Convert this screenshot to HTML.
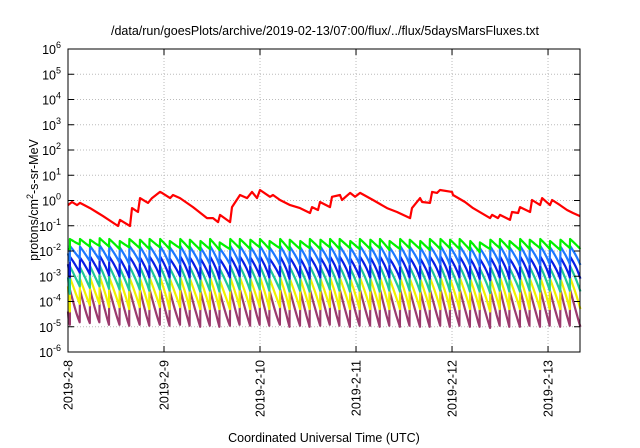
<!DOCTYPE html>
<html><head><meta charset="utf-8"><style>
body{margin:0;background:#fff;}
svg{display:block;font-family:"Liberation Sans",sans-serif;}
</style></head><body>
<svg id="chart" width="640" height="448" viewBox="0 0 640 448" xmlns="http://www.w3.org/2000/svg">
<text x="325" y="35" font-size="12.5" text-anchor="middle">/data/run/goesPlots/archive/2019-02-13/07:00/flux/../flux/5daysMarsFluxes.txt</text>
<text transform="translate(38,200) rotate(-90)" font-size="12.5" text-anchor="middle">protons/cm<tspan dy="-5" font-size="9">2</tspan><tspan dy="5">-s-sr-MeV</tspan></text>
<text x="324" y="442" font-size="12.5" text-anchor="middle">Coordinated Universal Time (UTC)</text>
<g id="grid"></g><g id="series"></g><g id="axes"></g>
</svg>
<script>
const xTickLabels = ["2019-2-8","2019-2-9","2019-2-10","2019-2-11","2019-2-12","2019-2-13"];
const yTickExps = [-6,-5,-4,-3,-2,-1,0,1,2,3,4,5,6];
const redTimes = [0,.042,.094,.125,.229,.313,.365,.521,.542,.646,.667,.729,.75,.833,.875,.958,.979,1.063,1.094,1.167,1.302,1.448,1.51,1.563,1.583,1.688,1.708,1.792,1.865,1.917,1.969,2.0,2.104,2.135,2.208,2.313,2.417,2.521,2.542,2.604,2.625,2.729,2.75,2.833,2.854,2.938,2.99,3.042,3.177,3.323,3.427,3.563,3.583,3.667,3.688,3.771,3.792,3.844,3.875,4.0,4.01,4.135,4.219,4.396,4.417,4.479,4.5,4.604,4.625,4.688,4.708,4.813,4.833,4.917,4.938,5.021,5.042,5.125,5.198,5.26,5.333];
const redValues = [.66,.87,.66,.8,.5,.32,.24,.098,.17,.098,.5,.35,1.25,.8,1.25,2.2,2.0,1.25,1.65,1.25,.55,.2,.2,.14,.27,.14,.55,1.65,1.25,2.2,1.25,2.6,1.4,1.65,1.05,.66,.5,.32,.55,.42,.87,.55,1.4,1.65,1.05,2.0,1.4,2.0,1.05,.5,.35,.2,.5,1.25,.87,.8,2.2,2.0,2.6,2.2,1.65,.87,.5,.2,.27,.2,.27,.17,.35,.32,.55,.35,1.05,.66,1.25,.66,1.05,.66,.42,.32,.24];
const cycleStarts = [0,.02,.125,.23,.33,.43,.54,.64,.75,.85,.96,1.06,1.17,1.27,1.38,1.48,1.58,1.69,1.79,1.9,2.0,2.1,2.21,2.31,2.42,2.52,2.63,2.73,2.83,2.94,3.04,3.15,3.25,3.35,3.46,3.56,3.67,3.77,3.88,3.98,4.08,4.19,4.29,4.4,4.5,4.6,4.71,4.81,4.92,5.02,5.13,5.23,5.34];
const greenPeaks = [.012,.03,.03,.028,.032,.03,.025,.03,.028,.03,.03,.025,.03,.028,.025,.03,.022,.03,.03,.028,.03,.025,.03,.028,.025,.03,.028,.03,.03,.025,.03,.028,.03,.025,.03,.028,.025,.03,.03,.028,.03,.025,.022,.028,.03,.025,.03,.028,.03,.025,.028,.03,.02];
const greenTroughs = [.012,.018,.015,.016,.015,.012,.014,.013,.012,.014,.012,.013,.012,.011,.012,.011,.012,.013,.012,.014,.012,.013,.011,.012,.013,.012,.014,.012,.013,.012,.012,.013,.011,.012,.013,.012,.011,.012,.013,.012,.011,.009,.012,.013,.012,.011,.012,.013,.012,.011,.013,.012,.012];
const lblueTroughs = [.004,.005,.004,.0045,.004,.0035,.003,.0035,.003,.0032,.0028,.003,.0028,.0026,.003,.0028,.003,.003,.0028,.0032,.003,.0028,.003,.0028,.0026,.003,.0032,.003,.0028,.003,.003,.0028,.003,.0026,.003,.0028,.0026,.003,.0028,.003,.0028,.0026,.0024,.003,.0028,.0026,.003,.0028,.003,.0026,.003,.0028,.003];
const lbluePeaks = [.008,.016,.015,.016,.017,.016,.014,.016,.015,.016,.016,.014,.016,.015,.014,.016,.013,.016,.016,.015,.016,.014,.016,.015,.014,.016,.015,.016,.016,.014,.016,.015,.016,.014,.016,.015,.014,.016,.016,.015,.016,.014,.013,.015,.016,.014,.016,.015,.016,.014,.015,.016,.012];
const bluePeaks = [.003,.006,.0055,.006,.0065,.006,.005,.006,.0055,.006,.006,.005,.006,.0055,.005,.006,.0048,.006,.006,.0055,.006,.005,.006,.0055,.005,.006,.0055,.006,.006,.005,.006,.0055,.006,.005,.006,.0055,.005,.006,.006,.0055,.006,.005,.0048,.0055,.006,.005,.006,.0055,.006,.005,.0055,.006,.0045];
const blueTroughs = [.0009,.0014,.0012,.0013,.0011,.001,.0009,.001,.0009,.001,.0009,.001,.0009,.0008,.0009,.0008,.0009,.001,.0009,.001,.0009,.001,.0008,.0009,.0008,.0009,.001,.0009,.0008,.0009,.0009,.0008,.0009,.0008,.0009,.0008,.0008,.0009,.0008,.0009,.0008,.0008,.0007,.0009,.0008,.0008,.0009,.0008,.0009,.0008,.0009,.0008,.0009];
const tealPeaks = [.0009,.0025,.0023,.0025,.0027,.0025,.0021,.0025,.0023,.0025,.0025,.0021,.0025,.0023,.0021,.0025,.002,.0025,.0025,.0023,.0025,.0021,.0025,.0023,.0021,.0025,.0023,.0025,.0025,.0021,.0025,.0023,.0025,.0021,.0025,.0023,.0021,.0025,.0025,.0023,.0025,.0021,.002,.0023,.0025,.0021,.0025,.0023,.0025,.0021,.0023,.0025,.0018];
const tealTroughs = [.0002,.0004,.00035,.0004,.00032,.0003,.00028,.0003,.00027,.0003,.00027,.0003,.00027,.00025,.00027,.00025,.00027,.0003,.00027,.0003,.00027,.0003,.00025,.00027,.00025,.00027,.0003,.00027,.00025,.00027,.00027,.00025,.00027,.00025,.00027,.00025,.00025,.00027,.00025,.00027,.00025,.00025,.00022,.00027,.00025,.00025,.00027,.00025,.00027,.00025,.00027,.00025,.00027];
const yellowPeaks = [.0004,.0009,.0008,.0009,.001,.0009,.0008,.0009,.0008,.0009,.0009,.0008,.0009,.0008,.0008,.0009,.0007,.0009,.0009,.0008,.0009,.0008,.0009,.0008,.0008,.0009,.0008,.0009,.0009,.0008,.0009,.0008,.0009,.0008,.0009,.0008,.0008,.0009,.0009,.0008,.0009,.0008,.0007,.0008,.0009,.0008,.0009,.0008,.0009,.0008,.0008,.0009,.0006];
const yellowTroughs = [.00004,.00008,.00007,.00008,.00006,.00006,.00005,.00006,.00005,.00006,.00005,.00006,.00005,.00005,.00005,.00005,.00005,.00006,.00005,.00006,.00005,.00006,.00005,.00005,.00005,.00005,.00006,.00005,.00005,.00005,.00005,.00005,.00005,.00005,.00005,.00005,.00005,.00005,.00005,.00005,.00005,.00005,.00004,.00005,.00005,.00005,.00005,.00005,.00005,.00005,.00005,.00005,.00005];
const purplePeaks = [.00004,.0003,.00028,.0003,.00032,.0003,.00026,.0003,.00028,.0003,.0003,.00026,.0003,.00028,.00026,.0003,.00024,.0003,.0003,.00028,.0003,.00026,.0003,.00028,.00026,.0003,.00028,.0003,.0003,.00026,.0003,.00028,.0003,.00026,.0003,.00028,.00026,.0003,.0003,.00028,.0003,.00026,.00024,.00028,.0003,.00026,.0003,.00028,.0003,.00026,.00028,.0003,.0002];
const purpleTroughs = [.000012,.000015,.000014,.000015,.000012,.000012,.000011,.000012,.000011,.000012,.000011,.000012,.000011,.00001,.000011,.00001,.000011,.000012,.000011,.000012,.000011,.000012,.00001,.000011,.00001,.000011,.000012,.000011,.00001,.000011,.000011,.00001,.000011,.00001,.000011,.00001,.00001,.000011,.00001,.000011,.00001,.00001,.000009,.000011,.00001,.00001,.000011,.00001,.000011,.00001,.000011,.00001,.000011];

const X0=68,X1=580,Y0=352,Y1=49,DAYS=5.333;
const xs=t=>X0+t/DAYS*(X1-X0);
const ys=v=>Y0-(Math.log10(v)+6)/12*(Y0-Y1);
const NS="http://www.w3.org/2000/svg";
const mk=(tag,parent)=>{const e=document.createElementNS(NS,tag);parent.appendChild(e);return e;};
const grid=document.getElementById('grid'),axes=document.getElementById('axes'),ser=document.getElementById('series');

yTickExps.forEach(e=>{
  const y=ys(Math.pow(10,e));
  if(e>-6&&e<6){const g=mk('line',grid);
  
  
  g.setAttribute('x1',X0);g.setAttribute('x2',X1);g.setAttribute('y1',y);g.setAttribute('y2',y);
  g.setAttribute('stroke','#bbb');g.setAttribute('stroke-dasharray','1,2');}
  [[X0,X0+6],[X1-6,X1]].forEach(p=>{const t=mk('line',axes);
  
  
  t.setAttribute('x1',p[0]);t.setAttribute('x2',p[1]);t.setAttribute('y1',y);t.setAttribute('y2',y);t.setAttribute('stroke','#000');});
  const l=mk('text',axes);
  
  
  l.setAttribute('x',X0-7);l.setAttribute('y',y+5);l.setAttribute('text-anchor','end');l.setAttribute('font-size','12.5');
  l.innerHTML='10<tspan dy="-6" font-size="9">'+e+'</tspan>';
});
xTickLabels.forEach((s,i)=>{
  const x=xs(i);
  if(i>0){const g=mk('line',grid);
  
  
  g.setAttribute('x1',x);g.setAttribute('x2',x);g.setAttribute('y1',Y1);g.setAttribute('y2',Y0);
  g.setAttribute('stroke','#bbb');g.setAttribute('stroke-dasharray','1,2');}
  [[Y0,Y0-6],[Y1,Y1+6]].forEach(p=>{const t=mk('line',axes);
  
  
  t.setAttribute('x1',x);t.setAttribute('x2',x);t.setAttribute('y1',p[0]);t.setAttribute('y2',p[1]);t.setAttribute('stroke','#000');});
  const l=mk('text',axes);
  
  
  l.setAttribute('transform','translate('+(x+4.5)+','+(Y0+8)+') rotate(-90)');
  l.setAttribute('text-anchor','end');l.setAttribute('font-size','12.5');
  l.textContent=s;
});
const frame=mk('rect',axes);


frame.setAttribute('x',X0);frame.setAttribute('y',Y1);frame.setAttribute('width',X1-X0);frame.setAttribute('height',Y0-Y1);
frame.setAttribute('fill','none');frame.setAttribute('stroke','#000');

function addLine(pts,color,name){
  const p=mk('polyline',ser);
  
  
  p.setAttribute('points',pts.map(q=>q[0].toFixed(1)+','+q[1].toFixed(1)).join(' '));
  p.setAttribute('fill','none');p.setAttribute('stroke',color);p.setAttribute('stroke-width','2.2');p.setAttribute('stroke-linejoin','round');
}
function sawtooth(peaks,troughs,k){
  const pts=[];
  for(let i=0;i<cycleStarts.length-1;i++){
    const t0=cycleStarts[i],t1=cycleStarts[i+1],pk=peaks[i],tr=troughs[i];
    for(let j=0;j<=6;j++){const s=j/6;const t=t0+(t1-t0)*s*0.97;
      const v=tr+(pk-tr)*(Math.exp(-k*s)-Math.exp(-k))/(1-Math.exp(-k));
      pts.push([xs(t),ys(v)]);}
  }
  return pts;
}
addLine(sawtooth(purplePeaks,purpleTroughs,3.5),'#9b3a6e','purple-series');
addLine(sawtooth(yellowPeaks,yellowTroughs,2.5),'#f0f000','yellow-series');
addLine(sawtooth(tealPeaks,tealTroughs,1.8),'#1ec89a','teal-series');
addLine(sawtooth(bluePeaks,blueTroughs,1.2),'#0a1ee6','blue-series');
addLine(sawtooth(lbluePeaks,lblueTroughs,1.2),'#1e78ff','light-blue-series');
addLine(sawtooth(greenPeaks,greenTroughs,0.8),'#00f000','green-series');
addLine(redTimes.map((t,i)=>[xs(t),ys(redValues[i])]),'#ff0000','red-series');
</script>
</body></html>
